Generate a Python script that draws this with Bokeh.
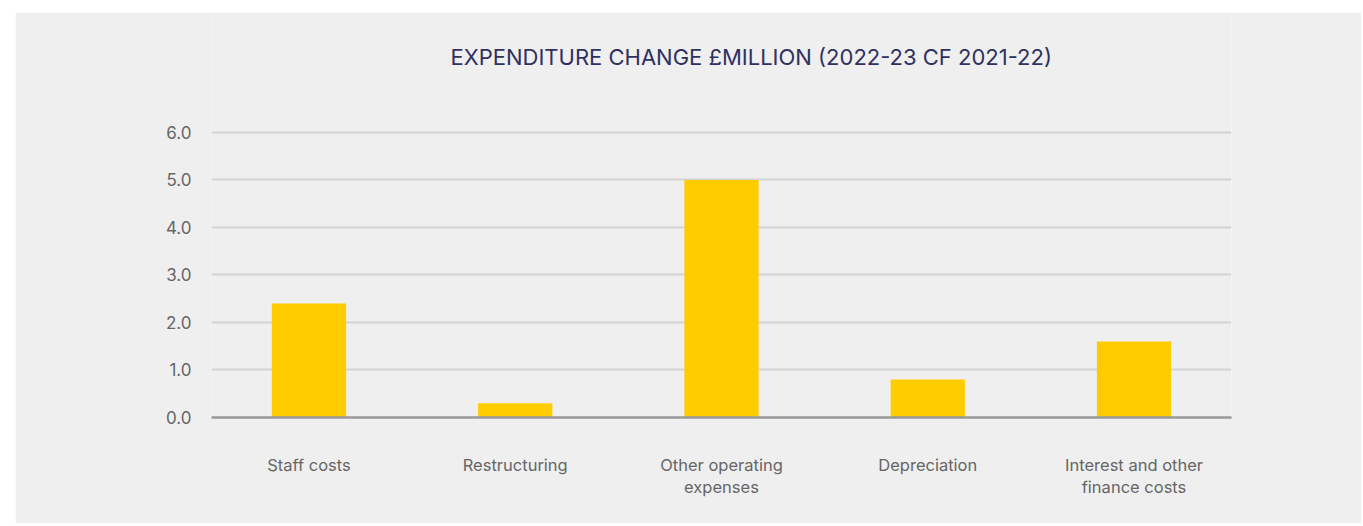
from bokeh.plotting import figure
from bokeh.models import Range1d, FactorRange, FixedTicker, Label, NumeralTickFormatter
from bokeh.embed import file_html
from bokeh.resources import INLINE

categories = ["Staff costs", "Restructuring", "Other operating\nexpenses",
              "Depreciation", "Interest and other\nfinance costs"]
values = [2.4, 0.3, 5.0, 0.8, 1.6]
y_ticks = [0.0, 1.0, 2.0, 3.0, 4.0, 5.0, 6.0]
title_text = "EXPENDITURE CHANGE £MILLION (2022-23 CF 2021-22)"

BG = "#efefef"
FONT = "Inter"

# frame spans the full top area (so the title can sit inside it); gridlines only at y_ticks
p = figure(width=1346, height=511,
           x_range=FactorRange(*categories, range_padding=-0.011),
           y_range=Range1d(0, 8.526), output_backend="svg", toolbar_location=None,
           background_fill_color=BG, border_fill_color=BG,
           min_border_left=196, min_border_right=130, min_border_top=0, min_border_bottom=106,
           outline_line_color=None, margin=(12, 0, 0, 15))

p.vbar(x=categories, top=values, width=0.36, color="#ffcc00", line_color=None)

title = Label(x=0.0275 + 239 / 206.3, y=7.579, text=title_text,
              text_font=FONT, text_font_size="22px", text_color="#2f3160",
              text_align="left", text_baseline="middle")
p.add_layout(title)

p.yaxis.ticker = FixedTicker(ticks=y_ticks)
p.yaxis.formatter = NumeralTickFormatter(format="0.0")
p.yaxis.axis_line_color = None
p.yaxis.major_tick_line_color = None
p.yaxis.minor_tick_line_color = None
p.yaxis.major_label_standoff = 14
p.yaxis.major_label_text_font = FONT
p.yaxis.major_label_text_font_size = "17px"
p.yaxis.major_label_text_color = "#666666"

p.xaxis.axis_line_color = "#999999"
p.xaxis.axis_line_width = 2.5
p.xaxis.major_tick_line_color = None
p.xaxis.minor_tick_line_color = None
p.xaxis.major_label_standoff = 31
p.xaxis.major_label_text_font = FONT
p.xaxis.major_label_text_font_size = "16.5px"
p.xaxis.major_label_text_color = "#666666"
p.xaxis.major_label_text_line_height = 1.1

p.xgrid.grid_line_color = None
p.ygrid.grid_line_color = "#d3d3d3"
p.ygrid.grid_line_width = 2

open("out.html", "w").write(file_html(p, INLINE))
